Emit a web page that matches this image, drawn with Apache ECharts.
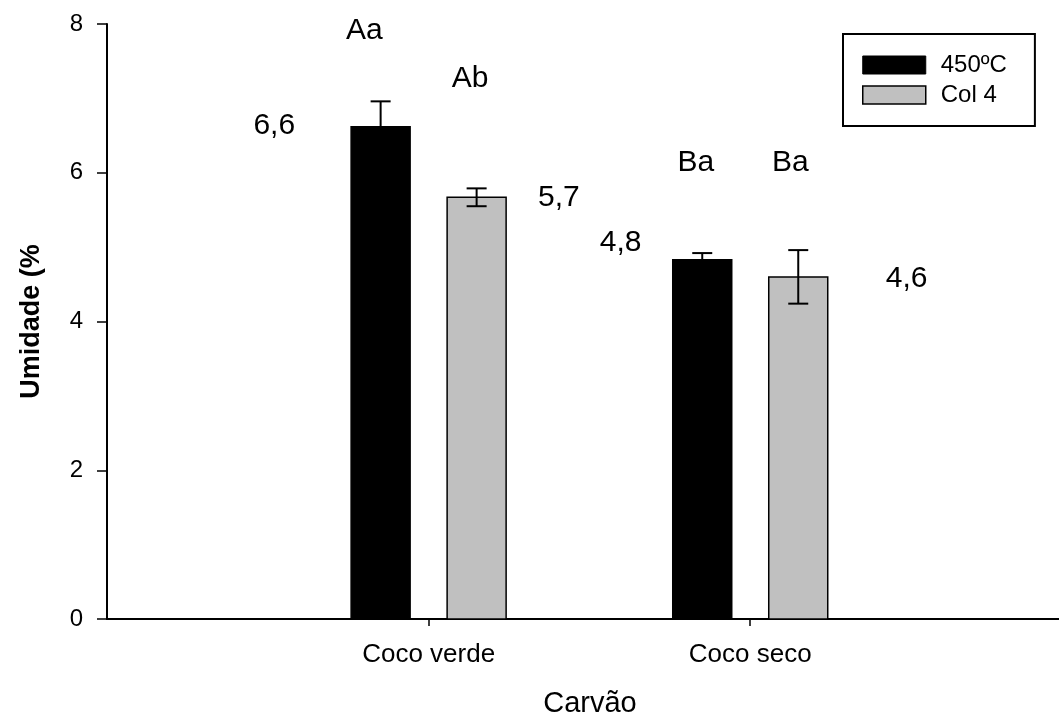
<!DOCTYPE html>
<html><head><meta charset="utf-8">
<script src="https://cdn.jsdelivr.net/npm/echarts@6/dist/echarts.min.js"></script>
<style>html,body{margin:0;padding:0;background:#fff}#c{width:1059px;height:713px}</style>
</head><body><div id="c"></div>
<script>
// ---- data ----
const categories = ['Coco verde', 'Coco seco'];
const seriesNames = ['450ºC', 'Col 4'];
const values450 = [6.62, 4.83];
const valuesCol4 = [5.67, 4.60];
const err450 = [0.34, 0.09];
const errCol4 = [0.12, 0.36];
const yTicks = [0, 2, 4, 6, 8];
// annotation texts and their anchors (data units)
const meanLabels = ['6,6', '5,7', '4,8', '4,6'];
const meanAnchorX = [0.52, 1.405, 1.597, 2.486];
const meanAnchorY = [6.63, 5.66, 5.06, 4.58];
const letterLabels = ['Aa', 'Ab', 'Ba', 'Ba'];
const letterAnchorX = [0.80, 1.129, 1.831, 2.125];
const letterAnchorY = [7.91, 7.27, 6.14, 6.14];

// ---- style ----
const FONT = "'Liberation Sans', Arial, Helvetica, sans-serif";
const BAR_W = 59, OFFSET = 48, CAP = 20;
const GREY = '#c0c0c0';

function barRender(offsetPx) {
  return function (params, api) {
    const x = api.value(0), y = api.value(1);
    const top = api.coord([x, y]);
    const base = api.coord([x, 0]);
    return {
      type: 'rect',
      shape: { x: top[0] + offsetPx - BAR_W / 2, y: top[1], width: BAR_W, height: base[1] - top[1] },
      style: api.style({ stroke: '#000', lineWidth: 1.5 })
    };
  };
}
function errRender(offsetPx) {
  return function (params, api) {
    const x = api.value(0), y = api.value(1), e = api.value(2);
    const hi = api.coord([x, y + e]);
    const lo = api.coord([x, y - e]);
    const cx = hi[0] + offsetPx;
    const st = { stroke: '#000', lineWidth: 2 };
    return {
      type: 'group',
      children: [
        { type: 'line', shape: { x1: cx, y1: hi[1], x2: cx, y2: lo[1] }, style: st },
        { type: 'line', shape: { x1: cx - CAP / 2, y1: hi[1], x2: cx + CAP / 2, y2: hi[1] }, style: st },
        { type: 'line', shape: { x1: cx - CAP / 2, y1: lo[1], x2: cx + CAP / 2, y2: lo[1] }, style: st }
      ]
    };
  };
}

const chart = echarts.init(document.getElementById('c'), null, { renderer: 'canvas' });
chart.setOption({
  animation: false,
  backgroundColor: '#fff',
  textStyle: { fontFamily: FONT },
  grid: { left: 107, right: 0, top: 24, bottom: 94, outerBoundsMode: 'none', containLabel: false },
  legend: {
    orient: 'vertical', left: 843, top: 34,
    padding: [19, 28, 19, 19],
    borderColor: '#000', borderWidth: 2,
    itemWidth: 63, itemHeight: 18, itemGap: 6,
    selectedMode: false,
    textStyle: { fontSize: 24, color: '#000', fontFamily: FONT, padding: [0, 0, 0, 10] },
    data: [
      { name: seriesNames[0], icon: 'rect', itemStyle: { color: '#000', borderColor: '#000', borderWidth: 1 } },
      { name: seriesNames[1], icon: 'rect', itemStyle: { color: GREY, borderColor: '#000', borderWidth: 1.5 } }
    ]
  },
  xAxis: {
    type: 'value', min: 0, max: 2.96,
    name: 'Carvão', nameLocation: 'middle', nameGap: 70,
    nameTextStyle: { fontSize: 29, color: '#000', fontFamily: FONT, padding: [0, 0, 0, 14] },
    axisLine: { show: true, onZero: false, lineStyle: { color: '#000', width: 2 } },
    axisTick: { show: true, inside: false, length: 7, lineStyle: { color: '#000', width: 1.5 }, customValues: [1, 2] },
    axisLabel: {
      show: true, margin: 23, fontSize: 26, color: '#000', fontFamily: FONT,
      customValues: [1, 2],
      formatter: v => categories[Math.round(v) - 1] || ''
    },
    splitLine: { show: false }
  },
  yAxis: {
    type: 'value', min: yTicks[0], max: yTicks[yTicks.length - 1], interval: 2,
    name: 'Umidade (%', nameLocation: 'middle', nameRotate: 90, nameGap: 62,
    nameTextStyle: { fontSize: 27, fontWeight: 'bold', color: '#000', fontFamily: FONT },
    axisLine: { show: true, lineStyle: { color: '#000', width: 2 } },
    axisTick: { show: true, inside: false, length: 10, lineStyle: { color: '#000', width: 1.5 } },
    axisLabel: { margin: 24, fontSize: 24, color: '#000', fontFamily: FONT },
    splitLine: { show: false }
  },
  series: [
    {
      name: seriesNames[0], type: 'custom', renderItem: barRender(-OFFSET),
      itemStyle: { color: '#000' }, z: 2,
      data: categories.map((c, i) => [i + 1, values450[i]])
    },
    {
      name: seriesNames[1], type: 'custom', renderItem: barRender(OFFSET),
      itemStyle: { color: GREY }, z: 2,
      data: categories.map((c, i) => [i + 1, valuesCol4[i]])
    },
    {
      type: 'custom', renderItem: errRender(-OFFSET), z: 3, silent: true,
      data: categories.map((c, i) => [i + 1, values450[i], err450[i]])
    },
    {
      type: 'custom', renderItem: errRender(OFFSET), z: 3, silent: true,
      data: categories.map((c, i) => [i + 1, valuesCol4[i], errCol4[i]])
    },
    {
      type: 'scatter', symbolSize: 1, itemStyle: { color: 'rgba(0,0,0,0)' }, silent: true, z: 4,
      label: {
        show: true, position: 'inside', formatter: '{b}', fontSize: 30,
        color: '#000', opacity: 1, textBorderWidth: 0, fontFamily: FONT
      },
      data: meanLabels.map((t, i) => ({ name: t, value: [meanAnchorX[i], meanAnchorY[i]] }))
        .concat(letterLabels.map((t, i) => ({ name: t, value: [letterAnchorX[i], letterAnchorY[i]] })))
    }
  ]
});
</script>
</body></html>
